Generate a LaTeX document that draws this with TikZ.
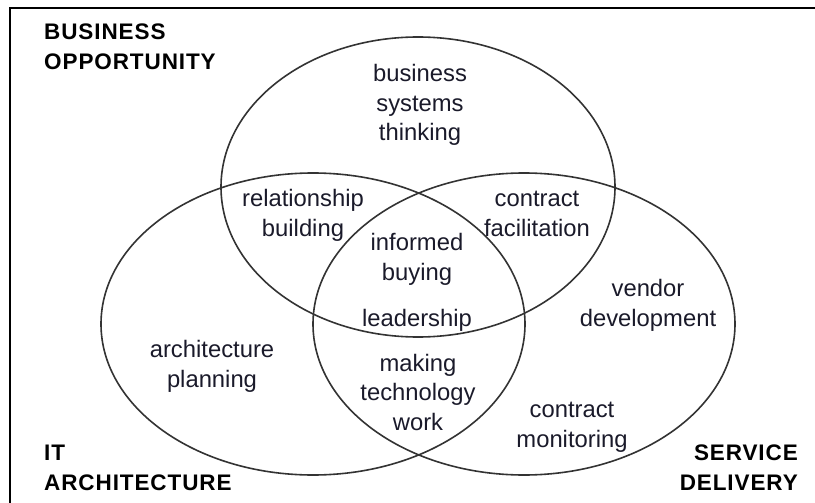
\documentclass[tikz,border=0pt]{standalone}
\usepackage{fontspec}
\setmainfont{Liberation Sans}
\definecolor{ink}{HTML}{1A1A2A}
\definecolor{edge}{HTML}{333333}
\begin{document}
\begin{tikzpicture}[x=1pt,y=-1pt,
  body/.style={font=\fontsize{23.8}{29.5}\selectfont, text=ink, align=center, anchor=base, inner sep=0pt},
  headl/.style={font=\fontsize{22.5}{29.5}\selectfont\bfseries\addfontfeature{LetterSpace=4}, text=black, inner sep=0pt, anchor=base west, align=left},
  headr/.style={headl, anchor=base east, align=right},
  set/.style={draw=edge, line width=1.6pt},
  frame/.style={draw=black, line width=2pt}]
\useasboundingbox (0,0) rectangle (815,503);
\draw[frame] (10,503) -- (10,8) -- (815,8);
% sets
\draw[set] (418,187) ellipse [x radius=197pt, y radius=150pt];
\draw[set] (313,324) ellipse [x radius=212pt, y radius=151pt];
\draw[set] (524,324) ellipse [x radius=211pt, y radius=151pt];
% headings (anchor = baseline of last line)
\node[headl] (bo) at (44,69.5) {BUSINESS\\OPPORTUNITY};
\node[headl] (ita) at (44,490) {IT\\ARCHITECTURE};
\node[headr] (sd) at (798,490) {SERVICE\\DELIVERY};
% region labels (anchor = baseline of last line)
\node[body] (bst) at (420,141) {business\\systems\\thinking};
\node[body] (rb) at (303,236) {relationship\\building};
\node[body] (cf) at (537,236) {contract\\facilitation};
\node[body] (ib) at (417,280) {informed\\buying};
\node[body] (ld) at (417,326) {leadership};
\node[body] (vd) at (648,326) {vendor\\development};
\node[body] (ap) at (212,387) {architecture\\planning};
\node[body] (mtw) at (418,430) {making\\technology\\work};
\node[body] (cm) at (572,447) {contract\\monitoring};
\end{tikzpicture}
\end{document}
